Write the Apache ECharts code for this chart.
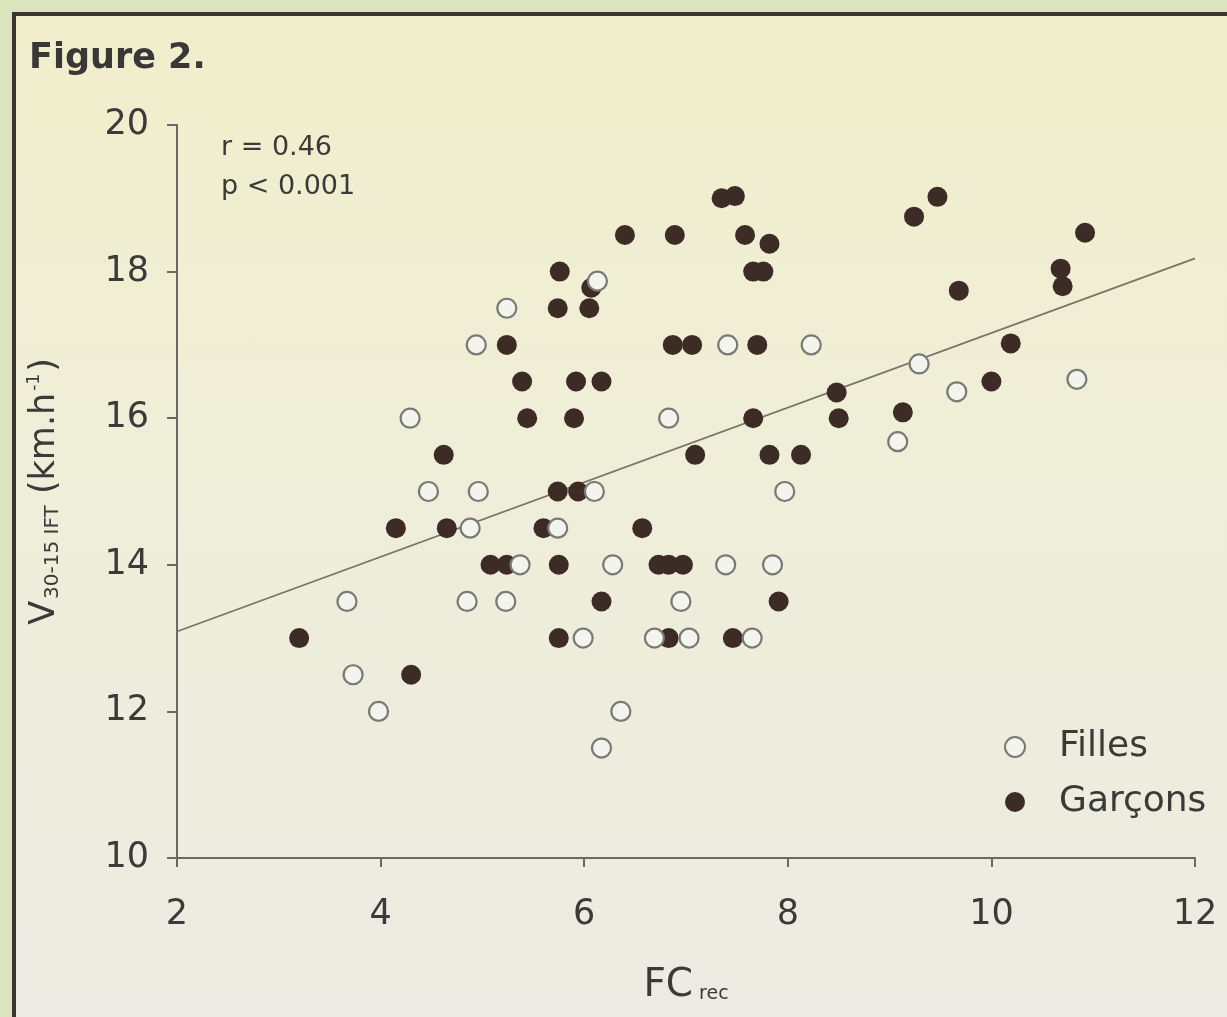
<!DOCTYPE html>
<html>
<head>
<meta charset="utf-8">
<script src="https://cdn.jsdelivr.net/npm/echarts@6/dist/echarts.min.js"></script>
<style>
  html, body { margin: 0; padding: 0; width: 1227px; height: 1017px; overflow: hidden; background: #dae5bd; }
  #panel { position: absolute; left: 12px; top: 12px; width: 1230px; height: 1020px;
    border-left: 4px solid #3b3430; border-top: 4px solid #3b3430;
    background: linear-gradient(to bottom, #f1eecb 0%, #efeed9 45%, #ebebe3 100%); }
  #chart { position: absolute; left: 0; top: 0; width: 1227px; height: 1017px; }
</style>
</head>
<body>
<div id="panel"></div>
<div id="chart"></div>
<script>
// Axis ranges / ticks
const xTicks = [2, 4, 6, 8, 10, 12];
const yTicks = [10, 12, 14, 16, 18, 20];

// Filles (open circles): [FC rec, V30-15 IFT]
const fillesData = [
  [3.67, 13.5], [3.73, 12.5], [3.98, 12.0], [4.29, 16.0], [4.47, 15.0],
  [4.96, 15.0], [4.88, 14.5], [4.85, 13.5], [4.94, 17.0], [5.24, 17.5],
  [5.23, 13.5], [5.37, 14.0], [5.74, 14.5], [5.99, 13.0], [6.10, 15.0],
  [6.13, 17.87], [6.28, 14.0], [6.36, 12.0], [6.17, 11.5], [6.69, 13.0],
  [6.83, 16.0], [6.95, 13.5], [7.03, 13.0], [7.39, 14.0], [7.41, 17.0],
  [7.65, 13.0], [7.85, 14.0], [7.97, 15.0], [8.23, 17.0], [9.08, 15.68],
  [9.29, 16.74], [9.66, 16.36], [10.84, 16.53]
];

// Garçons (filled circles)
const garconsData = [
  [3.20, 13.0], [4.15, 14.5], [4.30, 12.5], [4.62, 15.5], [4.65, 14.5],
  [5.08, 14.0], [5.24, 14.0], [5.24, 17.0], [5.39, 16.5], [5.44, 16.0],
  [5.60, 14.5], [5.74, 15.0], [5.74, 17.5], [5.76, 18.0], [5.75, 14.0],
  [5.75, 13.0], [5.94, 15.0], [5.90, 16.0], [5.92, 16.5], [6.05, 17.5],
  [6.07, 17.78], [6.17, 16.5], [6.17, 13.5], [6.40, 18.5], [6.57, 14.5],
  [6.73, 14.0], [6.83, 14.0], [6.97, 14.0], [6.89, 18.5], [6.87, 17.0],
  [7.06, 17.0], [6.83, 13.0], [7.09, 15.5], [7.35, 19.0], [7.48, 19.03],
  [7.58, 18.5], [7.66, 18.0], [7.76, 18.0], [7.82, 18.38], [7.70, 17.0],
  [7.66, 16.0], [7.82, 15.5], [7.91, 13.5], [7.46, 13.0], [8.13, 15.5],
  [8.48, 16.35], [8.50, 16.0], [9.13, 16.08], [9.24, 18.75], [9.47, 19.02],
  [9.68, 17.74], [10.00, 16.5], [10.19, 17.02], [10.68, 18.04], [10.70, 17.8],
  [10.92, 18.53]
];

// Regression line end points
const regressionLine = [[2, 13.09], [12, 18.18]];

const seriesNames = ['Filles', 'Garçons'];
const statsText = ['r = 0.46', 'p < 0.001'];
const figureTitle = 'Figure 2.';

const FONT = '"DejaVu Sans", "Liberation Sans", Arial, sans-serif';
const TXT = '#3a3a38';
const AXIS = '#6a6866';

const chart = echarts.init(document.getElementById('chart'), null, { renderer: 'canvas' });

chart.setOption({
  backgroundColor: 'transparent',
  animation: false,
  textStyle: { fontFamily: FONT },
  title: {
    text: figureTitle,
    left: 24, top: 36,
    textStyle: { fontFamily: FONT, fontSize: 35, fontWeight: 'bold', color: '#3a3836' }
  },
  grid: { left: 177, right: 32, top: 125, bottom: 159, containLabel: false },
  legend: {
    orient: 'vertical',
    left: 1004, top: 728, padding: 0,
    itemWidth: 20, itemHeight: 20, itemGap: 17,
    textStyle: { fontFamily: FONT, fontSize: 36, lineHeight: 38, color: TXT, padding: [0, 0, 0, 29] },
    data: [
      { name: seriesNames[0], icon: 'circle', itemStyle: { color: '#f4f4ee', borderColor: '#7a7a74', borderWidth: 2 } },
      { name: seriesNames[1], icon: 'circle' }
    ]
  },
  xAxis: {
    type: 'value', min: xTicks[0], max: xTicks[xTicks.length - 1], interval: 2,
    name: 'FC{sub|rec}',
    nameLocation: 'middle', nameGap: 108,
    nameTextStyle: {
      fontFamily: FONT, fontSize: 39, color: TXT,
      rich: { sub: { fontFamily: FONT, fontSize: 19, color: TXT, padding: [17, 0, 0, 6] } }
    },
    axisLine: { show: true, lineStyle: { color: AXIS, width: 2 } },
    axisTick: { show: true, inside: false, length: 9, lineStyle: { color: AXIS, width: 2 } },
    axisLabel: { fontFamily: FONT, fontSize: 35, color: TXT, margin: 39 },
    splitLine: { show: false }
  },
  yAxis: {
    type: 'value', min: yTicks[0], max: yTicks[yTicks.length - 1], interval: 2,
    name: 'V{sub|30-15 IFT} (km.h{sup|-1})',
    nameLocation: 'middle', nameGap: 114, nameRotate: 90,
    nameTextStyle: {
      fontFamily: FONT, fontSize: 35, color: TXT,
      rich: {
        sub: { fontFamily: FONT, fontSize: 20, color: TXT, padding: [17, 0, 0, 2] },
        sup: { fontFamily: FONT, fontSize: 17, color: TXT, padding: [0, 2, 19, 2] }
      }
    },
    axisLine: { show: true, lineStyle: { color: AXIS, width: 2 } },
    axisTick: { show: true, inside: false, length: 10, lineStyle: { color: AXIS, width: 2 } },
    axisLabel: { fontFamily: FONT, fontSize: 35, color: TXT, margin: 28 },
    splitLine: { show: false }
  },
  graphic: [
    { type: 'text', left: 221, top: 134,
      style: { text: statsText[0], fontFamily: FONT, fontSize: 27, fill: TXT } },
    { type: 'text', left: 221, top: 173,
      style: { text: statsText[1], fontFamily: FONT, fontSize: 27, fill: TXT } }
  ],
  series: [
    {
      name: 'regression', type: 'line', data: regressionLine, symbol: 'none',
      lineStyle: { color: '#7d7266', width: 1.8 }, z: 1, silent: true
    },
    {
      name: seriesNames[0], type: 'scatter', data: fillesData, symbol: 'circle', symbolSize: 19,
      itemStyle: { color: '#f4f4ee', borderColor: '#7a7a74', borderWidth: 2.2, opacity: 1 }, z: 3
    },
    {
      name: seriesNames[1], type: 'scatter', data: garconsData, symbol: 'circle', symbolSize: 20,
      itemStyle: { color: '#3d2b25', opacity: 1 }, z: 2
    }
  ]
});
</script>
</body>
</html>
